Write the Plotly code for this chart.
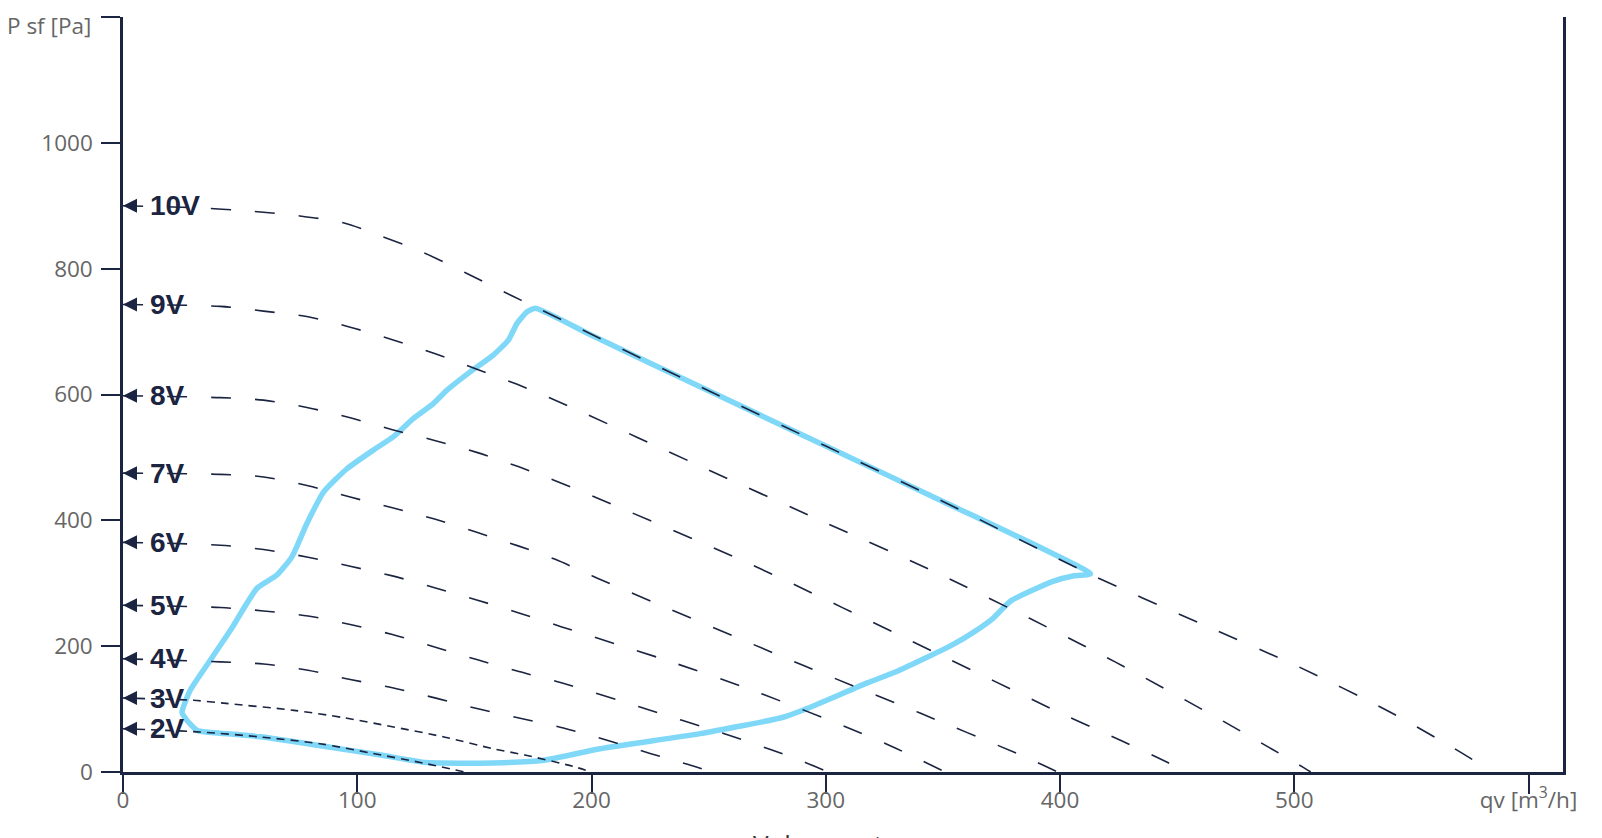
import plotly.graph_objects as go

# ---- data ----
labels = ["10V", "9V", "8V", "7V", "6V", "5V", "4V", "3V", "2V"]

v10_q = [0, 30, 56, 75, 94, 110, 128, 166, 176, 250, 300, 350, 413, 460, 502, 540, 568, 576]
v10_p = [900, 897, 891, 884, 873, 852, 826, 757, 739, 606, 518, 430, 314, 236, 167, 97, 38, 20]

v9_q = [0, 41.5, 60, 79, 97, 115, 133, 150.5, 168, 184.5, 250, 300, 350, 423.5, 470, 504, 507]
v9_p = [743, 740, 732.5, 723.5, 707, 687, 665, 641, 616.5, 591, 480, 396, 312, 175, 80, 7, 0]

v8_q = [0, 41.5, 60, 79, 97, 115, 133, 151, 169, 184.5, 268, 350, 400, 426, 446, 454]
v8_p = [598, 595, 591, 579, 563, 544, 527, 508, 485, 463, 330, 184, 94, 50, 15, 0]

v7_q = [0, 41.5, 60, 79, 97, 115, 133, 151, 169, 184.5, 202.5, 290, 340, 385, 399]
v7_p = [475, 473, 469, 455, 437, 420, 402, 381, 359, 338, 308, 170, 94, 24, 0]

v6_q = [0, 41.5, 60, 79, 97, 115, 133, 151, 169, 187, 230, 270, 311, 328, 351]
v6_p = [365, 360.5, 353.6, 341.4, 327, 311.7, 293, 273.5, 252.8, 231, 180, 128, 68, 41, 0]

v5_q = [0, 41.5, 60, 79, 97, 115, 133, 151, 169, 187.5, 220, 259, 277, 290, 301]
v5_p = [265, 261.4, 256, 248, 234.4, 218.5, 198.8, 178.7, 159.6, 141.5, 104, 58, 35, 17, 0]

v4_q = [0, 41.5, 60, 79, 97, 115, 134, 152, 170, 188, 207, 225, 243, 251]
v4_p = [180, 175, 171.7, 161.7, 147, 134, 117, 100, 85, 70, 50, 29.5, 10, 0]

v3_q = [0, 30, 44, 73, 94, 115.5, 137, 158, 172, 192, 200]
v3_p = [117.5, 114, 109, 98, 86.5, 71.6, 55.7, 37, 26.6, 9, 0]

v2_q = [0, 33, 58.6, 84, 106, 128, 146]
v2_p = [68.7, 63.6, 55.7, 45, 30, 14.3, 0]

env_q = [176, 172.4, 168.2, 164.6, 158.2, 148.2, 138.3, 132.6, 124, 115.5, 107, 95.6, 85.6,
         78.5, 72.1, 65.7, 57.2, 46, 37.3, 28.7, 25.2, 27.3, 31.6, 34.4, 58.6, 87.1, 110,
         129.7, 158.2, 179.5, 203.7, 246.4, 281.8, 292, 318, 331, 353, 363, 371, 379, 397,
         406, 413, 350, 300, 250, 200, 176]
env_p = [737, 731, 713, 687, 663, 636, 607, 586, 562, 533, 512, 482, 445,
         395, 342, 313, 292, 226, 178, 130, 95, 82, 66, 64, 56, 40, 27,
         15, 14.5, 18.6, 37, 61, 87, 101, 142, 161, 200, 222, 243, 272, 303,
         312, 315, 430, 518, 606, 694, 737]

x_ticks = [0, 100, 200, 300, 400, 500, 600]
x_ticktext = ["0", "100", "200", "300", "400", "500", "qv [m<sup>3</sup>/h]"]
y_ticks = [0, 200, 400, 600, 800, 1000, 1200]
y_ticktext = ["0", "200", "400", "600", "800", "1000", ""]
y_unit = "P sf [Pa]"
x_title = "Volumenstrom"

curves_q = [v10_q, v9_q, v8_q, v7_q, v6_q, v5_q, v4_q, v3_q, v2_q]
curves_p = [v10_p, v9_p, v8_p, v7_p, v6_p, v5_p, v4_p, v3_p, v2_p]

# ---- style ----
NAVY = "#1b2440"
BLUE = "#80d8f8"
GRAY = "#666666"
TICKFONT = dict(family="Open Sans, sans-serif", size=22.5, color=GRAY)

fig = go.Figure()

fig.add_trace(go.Scatter(x=env_q, y=env_p, mode="lines",
                         line=dict(color=BLUE, width=5.5, shape="spline", smoothing=0.5),
                         hoverinfo="skip", showlegend=False))

for lab, q, p in zip(labels, curves_q, curves_p):
    dash = "8px,6px" if lab in ("3V", "2V") else "20px,24px"
    fig.add_trace(go.Scatter(x=q, y=p, mode="lines",
                             line=dict(color=NAVY, width=1.6, dash=dash, shape="spline", smoothing=0.8),
                             hoverinfo="skip", showlegend=False))
    fig.add_trace(go.Scatter(x=[q[0]], y=[p[0]], mode="markers", cliponaxis=False,
                             marker=dict(symbol="arrow-left", size=14, color=NAVY),
                             hoverinfo="skip", showlegend=False))
    fig.add_annotation(x=0, y=p[0], xref="x", yref="y", text=lab, showarrow=False,
                       xanchor="left", yanchor="middle", xshift=25,
                       font=dict(family="Liberation Sans, Arial, sans-serif", size=28,
                                 color=NAVY, weight="bold"))

# axis unit label at the top tick, kept fully inside the page
fig.add_annotation(x=0, y=y_ticks[-1], xref="paper", yref="y", text=y_unit, showarrow=False,
                   xanchor="right", yanchor="top", xshift=-30, yshift=9,
                   font=TICKFONT)

fig.add_annotation(x=0.5, y=0, xref="paper", yref="paper", text=x_title, showarrow=False,
                   xanchor="center", yanchor="top", yshift=-52,
                   font=dict(family="Open Sans, sans-serif", size=26, color="#333333"))

# the page body adds an 8px offset, so the figure is sized to fit the window
fig.update_layout(
    width=1594, height=830,
    margin=dict(l=115, r=39, t=9, b=66, pad=0),
    paper_bgcolor="white", plot_bgcolor="white",
    showlegend=False,
)
fig.update_xaxes(range=[0, 614.7], tickvals=x_ticks, ticktext=x_ticktext, automargin=False,
                 ticklabeloverflow="allow",
                 showgrid=False, zeroline=False, showline=True, linecolor=NAVY, linewidth=2.5,
                 ticks="outside", ticklen=19, tickwidth=2, tickcolor=NAVY, ticklabelstandoff=-13,
                 tickfont=TICKFONT)
fig.update_yaxes(range=[0, 1200], tickvals=y_ticks, ticktext=y_ticktext, automargin=False,
                 ticklabeloverflow="allow",
                 showgrid=False, zeroline=False, showline=True, mirror=True,
                 linecolor=NAVY, linewidth=2.5, ticklabelstandoff=4,
                 ticks="outside", ticklen=19, tickwidth=2, tickcolor=NAVY,
                 tickfont=TICKFONT)

fig.write_html("out.html")
